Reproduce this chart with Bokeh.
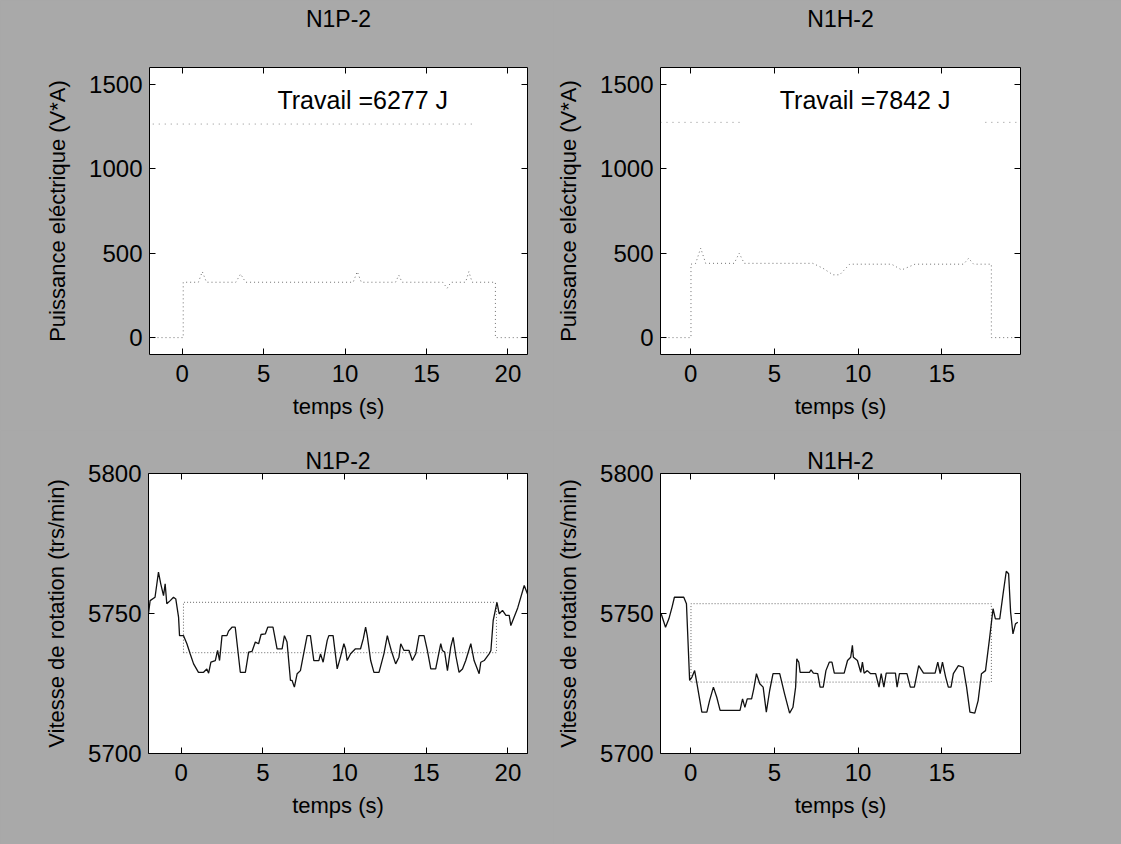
import math
from bokeh.plotting import figure
from bokeh.layouts import column, row
from bokeh.models import Range1d, LinearAxis, FixedTicker, Label
from bokeh.embed import file_html
from bokeh.resources import INLINE

# ---------------- data ----------------
titles_p = "N1P-2"
titles_h = "N1H-2"
x_ticks = [0, 5, 10, 15, 20]
power_ticks = [0, 500, 1000, 1500]
speed_ticks = [5700, 5750, 5800]

# electric power, test N1P-2 (dotted trace)
power_p_t = [-2.0, 0.07, 0.07, 1.0, 1.24, 1.5, 3.3, 3.59, 3.9, 10.5, 10.75, 11.0,
             13.1, 13.3, 13.5, 16.0, 16.27, 16.5, 17.4, 17.6, 17.8, 19.23, 19.23, 21.2]
power_p_w = [0, 0, 328, 328, 391, 328, 328, 377, 328, 328, 391, 328,
             328, 370, 328, 328, 292, 328, 328, 391, 328, 328, 0, 0]
peak_p_t = [-1.8, 18.0]
peak_p_w = [1265, 1265]
work_p = "Travail =6277 J"

# electric power, test N1H-2
power_h_t = [-1.8, 0.02, 0.02, 0.3, 0.6, 0.9, 2.6, 2.9, 3.2, 7.3, 7.9, 8.5, 8.9, 9.5,
             12.0, 12.6, 13.4, 16.3, 16.6, 16.9, 17.96, 17.96, 19.7]
power_h_w = [0, 0, 435, 440, 530, 440, 440, 500, 440, 440, 411, 372, 372, 435,
             435, 401, 435, 435, 470, 435, 435, 0, 0]
peak_h_t = [-1.8, 3.0, float("nan"), 17.6, 19.7]
peak_h_w = [1275, 1275, float("nan"), 1275, 1275]
work_h = "Travail =7842 J"

# rotation speed, test N1P-2
speed_p_t = [-2.0, -1.90, -1.60, -1.39, -1.25, -1.08, -0.98, -0.88, -0.67, -0.47, -0.33, -0.16,
             -0.10, 0.14, 0.35, 0.55, 0.76, 1.06, 1.37, 1.57, 1.68, 1.82, 2.09, 2.23, 2.35, 2.50,
             2.80, 2.90, 3.11, 3.31, 3.62, 3.93, 4.13, 4.34, 4.54, 4.74, 4.89, 5.15, 5.30, 5.62,
             5.87, 6.18, 6.32, 6.48, 6.69, 6.79, 6.93, 7.10, 7.30, 7.71, 7.91, 8.12, 8.43, 8.53,
             8.69, 8.94, 9.04, 9.30, 9.55, 9.75, 9.96, 10.06, 10.16, 10.37, 10.67, 10.98, 11.15,
             11.29, 11.39, 11.60, 11.80, 12.11, 12.41, 12.62, 12.72, 12.86, 13.13, 13.33, 13.44,
             13.64, 13.95, 14.15, 14.36, 14.56, 14.87, 15.07, 15.28, 15.58, 15.89, 15.99, 16.13,
             16.30, 16.50, 16.65, 16.81, 17.01, 17.22, 17.42, 17.73, 17.93, 18.24, 18.34, 18.55,
             18.85, 18.96, 19.10, 19.33, 19.47, 19.67, 19.88, 20.08, 20.18, 20.6, 21.0, 21.2]
speed_p_v = [5749.9, 5754.6, 5755.8, 5764.8, 5760.6, 5756.4, 5760.6, 5753.5, 5754.6, 5755.8, 5755.2, 5748.7,
             5742.1, 5742.1, 5739.2, 5735.6, 5732.0, 5729.0, 5729.0, 5730.2, 5728.7, 5732.6, 5733.2, 5736.8, 5733.2, 5742.1,
             5742.1, 5743.7, 5745.1, 5745.1, 5729.0, 5729.0, 5736.2, 5736.5, 5739.8, 5739.2, 5742.5, 5742.7, 5745.1, 5745.1,
             5737.4, 5737.4, 5742.1, 5739.8, 5726.1, 5726.1, 5723.7, 5728.5, 5729.6, 5742.1, 5742.1, 5733.2, 5733.2, 5735.6,
             5732.6, 5740.4, 5742.1, 5742.1, 5730.2, 5734.4, 5739.2, 5737.4, 5733.2, 5735.6, 5737.4, 5737.4, 5741.0,
             5745.1, 5742.1, 5733.2, 5729.0, 5729.0, 5735.6, 5742.1, 5739.8, 5736.8, 5732.0, 5734.4, 5739.2,
             5736.8, 5736.8, 5733.2, 5735.6, 5742.1, 5742.1, 5736.8, 5730.2, 5730.2, 5739.2, 5736.8, 5736.2,
             5729.6, 5738.0, 5741.5, 5735.0, 5729.0, 5730.2, 5733.2, 5739.2, 5733.2, 5728.5, 5732.6, 5733.2,
             5735.6, 5736.8, 5747.5, 5754.0, 5749.9, 5751.1, 5749.3, 5749.3, 5745.7, 5752.0, 5760.0, 5757.0]
ref_p_t = [0.14, 0.14, 19.3, 19.3, 0.14]
ref_p_v = [5736, 5754, 5754, 5736, 5736]

# rotation speed, test N1H-2
speed_h_t = [-1.76, -1.50, -1.30, -1.11, -0.97, -0.41, -0.25, -0.06, 0.08, 0.24, 0.38, 0.67, 0.97,
             1.13, 1.36, 1.56, 1.76, 2.95, 3.10, 3.24, 3.38, 3.64, 3.77, 3.93, 4.13, 4.33, 4.52,
             4.72, 4.92, 5.32, 5.61, 5.91, 6.11, 6.27, 6.34, 6.46, 6.54, 7.10, 7.19, 7.33, 7.59,
             7.73, 7.92, 8.08, 8.28, 8.44, 8.58, 9.17, 9.37, 9.56, 9.66, 9.72, 9.96, 10.16, 10.26,
             10.36, 10.55, 10.75, 11.05, 11.25, 11.38, 11.54, 11.68, 12.23, 12.33, 12.47, 12.92,
             13.12, 13.36, 13.62, 13.91, 14.60, 14.76, 14.90, 15.04, 15.23, 15.39, 15.55, 15.69,
             15.99, 16.28, 16.48, 16.68, 16.97, 17.17, 17.37, 17.61, 17.86, 18.06, 18.20, 18.46,
             18.66, 18.85, 18.99, 19.11, 19.25, 19.40, 19.54]
speed_h_v = [5749.9, 5745.1, 5748.1, 5752.3, 5755.8, 5755.8, 5753.5, 5726.1, 5727.3, 5729.6, 5724.9, 5714.8, 5714.8,
             5718.9, 5723.7, 5720.1, 5715.4, 5715.4, 5719.5, 5716.5, 5719.5, 5719.5, 5723.1, 5728.5, 5724.9, 5723.7, 5714.8,
             5722.5, 5728.5, 5728.5, 5721.3, 5714.4, 5716.5, 5723.7, 5733.8, 5732.6, 5729.0, 5729.0, 5729.9, 5728.7, 5728.5,
             5723.7, 5723.7, 5729.6, 5732.6, 5732.6, 5728.7, 5728.7, 5733.2, 5734.4, 5738.6, 5734.4, 5733.2, 5729.0, 5732.6,
             5728.7, 5729.6, 5728.5, 5728.5, 5723.7, 5728.5, 5723.7, 5728.7, 5728.7, 5723.7, 5728.5, 5728.5,
             5723.7, 5723.7, 5731.4, 5728.7, 5728.7, 5732.6, 5728.5, 5732.6, 5727.3, 5723.7, 5723.7, 5728.5,
             5731.4, 5730.8, 5723.7, 5714.8, 5714.4, 5718.9, 5728.5, 5729.6, 5741.5, 5751.7, 5748.1, 5748.1,
             5757.0, 5765.1, 5764.2, 5750.5, 5742.7, 5746.3, 5746.9]
ref_h_t = [0.02, 0.02, 17.96, 17.96, 0.02]
ref_h_v = [5725.5, 5753.5, 5753.5, 5725.5, 5725.5]

# ---------------- styling ----------------
BG = "#a9a9a9"
FONT = "Liberation Sans"
TICK_FS = "24px"
LABEL_FS = "22px"
TITLE_FS = "23px"
COL1_W = 553
COL2_W = 1121 - COL1_W


def make_fig(w, h, left, right, top, bottom, xr, yr, yticks, title, ylabel, high_title):
    p = figure(width=w, height=h, x_range=Range1d(*xr), y_range=Range1d(*yr),
               output_backend="svg", toolbar_location=None,
               title=None if high_title else title,
               min_border_left=left, min_border_right=right,
               min_border_top=top, min_border_bottom=bottom)
    p.border_fill_color = BG
    p.background_fill_color = "white"
    p.outline_line_color = "black"
    p.outline_line_width = 1
    p.grid.visible = False
    if not high_title:
        p.title.text_font = FONT
        p.title.text_font_size = TITLE_FS
        p.title.text_font_style = "normal"
        p.title.align = "center"
        p.title.text_color = "black"
        p.title.standoff = 0

    p.xaxis.ticker = FixedTicker(ticks=x_ticks)
    p.yaxis.ticker = FixedTicker(ticks=yticks)
    for ax in (p.xaxis[0], p.yaxis[0]):
        ax.major_tick_in = 6
        ax.major_tick_out = 0
        ax.minor_tick_line_color = None
        ax.axis_line_color = None
        ax.major_label_text_font = FONT
        ax.major_label_text_font_size = TICK_FS
        ax.major_label_text_color = "black"
        ax.axis_label_text_font = FONT
        ax.axis_label_text_font_size = LABEL_FS
        ax.axis_label_text_font_style = "normal"
        ax.axis_label_text_color = "black"
    p.xaxis.major_label_standoff = 10
    p.yaxis.major_label_standoff = 7
    p.xaxis.axis_label = "temps (s)"
    p.xaxis.axis_label_standoff = 9
    p.yaxis.axis_label = ylabel
    p.yaxis.axis_label_standoff = 16

    for loc, ticks in (("above", x_ticks), ("right", yticks)):
        ax = LinearAxis(ticker=FixedTicker(ticks=ticks), major_tick_in=6, major_tick_out=0,
                        minor_tick_line_color=None, axis_line_color=None,
                        major_label_overrides={t: "" for t in ticks},
                        major_label_text_font_size="1px", major_label_standoff=0)
        if loc == "above" and high_title:
            # the upper panels' title sits well above the frame
            ax.axis_label = title
            ax.axis_label_text_font = FONT
            ax.axis_label_text_font_size = TITLE_FS
            ax.axis_label_text_font_style = "normal"
            ax.axis_label_text_color = "black"
            ax.axis_label_standoff = 36
        p.add_layout(ax, loc)
    return p


DOT_POW = dict(line_color="#333333", line_width=1, line_dash="1 3", line_alpha=0.7)
DOT_PEAK = dict(line_color="#444444", line_width=1, line_dash="1 5", line_alpha=0.6)
DOT_REF = dict(line_color="#666666", line_width=1, line_dash="1 2")
SOLID = dict(line_color="#111111", line_width=1.3)

xr_p = (-2.0, 21.2)
xr_h = (-1.8, 19.7)

p1 = make_fig(COL1_W, 430, 149, COL1_W - 527, 67, 76, xr_p, (-100, 1600), power_ticks,
              titles_p, "Puissance eléctrique (V*A)", True)
p1.line(power_p_t, power_p_w, **DOT_POW)
p1.line(peak_p_t, peak_p_w, **DOT_PEAK)
p1.add_layout(Label(x=5.85, y=1405, text=work_p, text_font=FONT, text_font_size="25px",
                    text_baseline="alphabetic", text_color="black"))

p2 = make_fig(COL2_W, 430, 658 - COL1_W, 101, 67, 75, xr_h, (-100, 1600), power_ticks,
              titles_h, "Puissance eléctrique (V*A)", True)
p2.line(power_h_t, power_h_w, **DOT_POW)
p2.line(peak_h_t, peak_h_w, **DOT_PEAK)
p2.add_layout(Label(x=5.32, y=1405, text=work_h, text_font=FONT, text_font_size="25px",
                    text_baseline="alphabetic", text_color="black"))

p3 = make_fig(COL1_W, 414, 148, COL1_W - 527, 43, 91, xr_p, (5700, 5800), speed_ticks,
              titles_p, "Vitesse de rotation (trs/min)", False)
p3.line(ref_p_t, ref_p_v, **DOT_REF)
p3.line(speed_p_t, speed_p_v, **SOLID)

p4 = make_fig(COL2_W, 414, 657 - COL1_W, 101, 43, 91, xr_h, (5700, 5800), speed_ticks,
              titles_h, "Vitesse de rotation (trs/min)", False)
p4.line(ref_h_t, ref_h_v, **DOT_REF)
p4.line(speed_h_t, speed_h_v, **SOLID)

layout = column(row(p1, p2, spacing=0), row(p3, p4, spacing=0), spacing=0)
layout.styles = {"background-color": BG}

html = file_html(layout, INLINE, title="N1P-2 / N1H-2")
html = html.replace("</head>",
                    "<style>html,body{margin:0;padding:0;background:%s;overflow:hidden}</style></head>" % BG, 1)
open("out.html", "w").write(html)
